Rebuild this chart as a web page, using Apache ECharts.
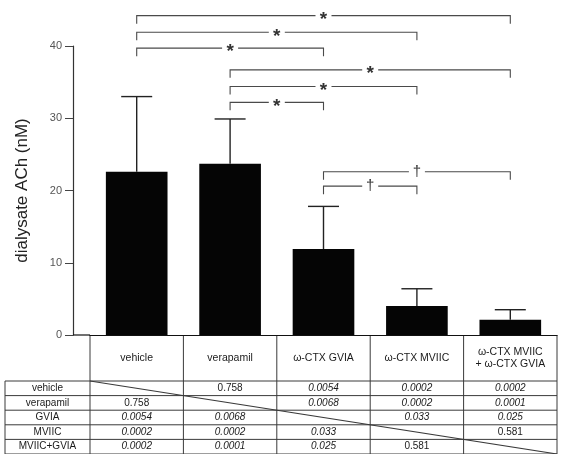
<!DOCTYPE html>
<html>
<head>
<meta charset="utf-8">
<script src="https://cdn.jsdelivr.net/npm/echarts@6/dist/echarts.min.js"></script>
<style>
  html, body { margin: 0; padding: 0; background: #fff; }
  #chart { width: 568px; height: 454px; }
</style>
</head>
<body>
<div id="chart"></div>
<script>
// Treatment groups and dialysate ACh (mean, SD)
const categories = ['vehicle', 'verapamil', 'ω-CTX GVIA', 'ω-CTX MVIIC', 'ω-CTX MVIIC\n+ ω-CTX GVIA'];
const meanACh = [22.6, 23.7, 11.9, 4.0, 2.1];
const sdACh = [10.4, 6.2, 5.9, 2.4, 1.4];
const yTicks = [0, 10, 20, 30, 40];

// Significant pairwise comparisons: [from group, to group, symbol]
const comparisons = [
  [0, 4, '*'], [0, 3, '*'], [0, 2, '*'],
  [1, 4, '*'], [1, 3, '*'], [1, 2, '*'],
  [2, 4, '†'], [2, 3, '†']
];
// Height (in axis units) at which each comparison bracket is drawn
const bracketLevels = [44.2, 41.9, 39.7, 36.7, 34.4, 32.2, 22.6, 20.6];

// P-value matrix shown beneath the chart
const tableRows = ['vehicle', 'verapamil', 'GVIA', 'MVIIC', 'MVIIC+GVIA'];
const pValues = [
  [null, '0.758', '0.0054', '0.0002', '0.0002'],
  ['0.758', null, '0.0068', '0.0002', '0.0001'],
  ['0.0054', '0.0068', null, '0.033', '0.025'],
  ['0.0002', '0.0002', '0.033', null, '0.581'],
  ['0.0002', '0.0001', '0.025', '0.581', null]
];

const FONT = '"Liberation Sans", Arial, Helvetica, sans-serif';
const INK = '#1a1a1a';
const LINE = '#3a3a3a';

const chart = echarts.init(document.getElementById('chart'), null, { renderer: 'canvas' });

const gridBox = { left: 90, right: 11, top: 46, bottom: 119 };
const yAxisOffset = 17;
const headerHeight = 46;
const rowHeight = 14.6;
const labelColLeft = 5;

chart.setOption({
  animation: false,
  backgroundColor: '#fff',
  grid: Object.assign({}, gridBox),
  xAxis: {
    type: 'category',
    data: categories,
    boundaryGap: true,
    axisLine: { show: true, lineStyle: { color: '#111', width: 1.2 } },
    axisTick: { show: false },
    axisLabel: {
      interval: 0,
      color: INK,
      fontFamily: FONT,
      fontSize: 10.5,
      lineHeight: 12,
      verticalAlign: 'middle',
      margin: 23
    },
    splitLine: { show: false }
  },
  yAxis: {
    type: 'value',
    min: yTicks[0],
    max: yTicks[yTicks.length - 1],
    interval: yTicks[1] - yTicks[0],
    offset: yAxisOffset,
    name: 'dialysate ACh (nM)',
    nameLocation: 'middle',
    nameRotate: 90,
    nameGap: 42,
    nameTextStyle: { color: '#222', fontFamily: FONT, fontSize: 17 },
    axisLine: { show: true, lineStyle: { color: '#333', width: 1.2 } },
    axisTick: { show: true, length: 8, lineStyle: { color: '#444' } },
    axisLabel: { color: '#555', fontFamily: FONT, fontSize: 11, margin: 11 },
    splitLine: { show: false }
  },
  series: [
    {
      type: 'bar',
      data: meanACh,
      barWidth: '66%',
      itemStyle: { color: '#050505' },
      z: 2
    },
    {
      // SD error bars (upper side only)
      type: 'custom',
      data: meanACh.map((m, i) => [i, m, m + sdACh[i]]),
      encode: { x: 0, y: [1, 2] },
      clip: false,
      z: 3,
      renderItem: function (params, api) {
        const base = api.coord([api.value(0), api.value(1)]);
        const top = api.coord([api.value(0), api.value(2)]);
        const half = 15.5;
        return {
          type: 'group',
          children: [
            { type: 'line', shape: { x1: base[0], y1: base[1], x2: top[0], y2: top[1] },
              style: { stroke: '#222', lineWidth: 1.4 } },
            { type: 'line', shape: { x1: top[0] - half, y1: top[1], x2: top[0] + half, y2: top[1] },
              style: { stroke: '#222', lineWidth: 1.4 } }
          ]
        };
      }
    },
    {
      // Comparison brackets with significance symbols
      type: 'custom',
      data: comparisons.map((c, i) => [c[0], c[1], bracketLevels[i]]),
      encode: { x: [0, 1], y: 2 },
      clip: false,
      z: 4,
      renderItem: function (params, api) {
        const a = api.coord([api.value(0), api.value(2)]);
        const b = api.coord([api.value(1), api.value(2)]);
        const leg = 8;
        const sym = comparisons[params.dataIndex][2];
        const isStar = sym === '*';
        return {
          type: 'group',
          children: [
            { type: 'polyline',
              shape: { points: [[a[0], a[1] + leg], [a[0], a[1]], [b[0], b[1]], [b[0], b[1] + leg]] },
              style: { stroke: '#4a4a4a', lineWidth: 1.1, fill: null } },
            { type: 'rect',
              shape: { x: (a[0] + b[0]) / 2 - 8, y: a[1] - 3, width: 16, height: 6 },
              style: { fill: '#fff' } },
            { type: 'text',
              style: {
                text: sym,
                x: (a[0] + b[0]) / 2,
                y: a[1] + (isStar ? 4 : 0),
                align: 'center',
                verticalAlign: 'middle',
                fill: '#333',
                font: (isStar ? 'bold 19px ' : '15px ') + FONT
              } }
          ]
        };
      }
    }
  ]
});

// Table beneath the x axis, laid out on the category bands
function drawTable() {
  const centers = categories.map((c, i) => chart.convertToPixel({ xAxisIndex: 0 }, i));
  const band = centers[1] - centers[0];
  const edges = centers.map(c => c - band / 2).concat([centers[centers.length - 1] + band / 2]);
  const axisY = chart.convertToPixel({ yAxisIndex: 0 }, 0);
  const yAxisX = edges[0] - yAxisOffset;
  const bodyTop = axisY + headerHeight;
  const bodyBottom = bodyTop + rowHeight * tableRows.length;
  const right = edges[edges.length - 1];
  const els = [];
  const ln = (x1, y1, x2, y2, w) => ({
    type: 'line', silent: true,
    shape: { x1, y1, x2, y2 },
    style: { stroke: LINE, lineWidth: w || 1 }
  });

  // x-axis line continues to the shifted y axis
  els.push({ type: 'line', silent: true, shape: { x1: yAxisX, y1: axisY, x2: edges[0], y2: axisY },
    style: { stroke: '#111', lineWidth: 1.2 }, z: 10 });

  // column borders through header and body
  edges.forEach(x => els.push(ln(x, axisY, x, bodyBottom)));
  // row label column left border
  els.push(ln(labelColLeft, bodyTop, labelColLeft, bodyBottom));
  // horizontal row lines
  for (let r = 0; r <= tableRows.length; r++) {
    const y = bodyTop + r * rowHeight;
    els.push(ln(labelColLeft, y, right, y));
  }
  // diagonal through the self-comparison cells
  els.push(ln(edges[0], bodyTop, right, bodyBottom, 1.1));

  tableRows.forEach((name, r) => {
    const cy = bodyTop + (r + 0.5) * rowHeight;
    els.push({ type: 'text', silent: true, style: {
      text: name, x: (labelColLeft + edges[0]) / 2, y: cy,
      align: 'center', verticalAlign: 'middle', fill: INK, font: '10px ' + FONT } });
    pValues[r].forEach((v, c) => {
      if (v === null) return;
      const italic = parseFloat(v) < 0.05;
      els.push({ type: 'text', silent: true, style: {
        text: v, x: centers[c], y: cy,
        align: 'center', verticalAlign: 'middle', fill: INK,
        font: (italic ? 'italic ' : '') + '10px ' + FONT } });
    });
  });

  chart.setOption({ graphic: { elements: els } });
}
drawTable();
</script>
</body>
</html>
